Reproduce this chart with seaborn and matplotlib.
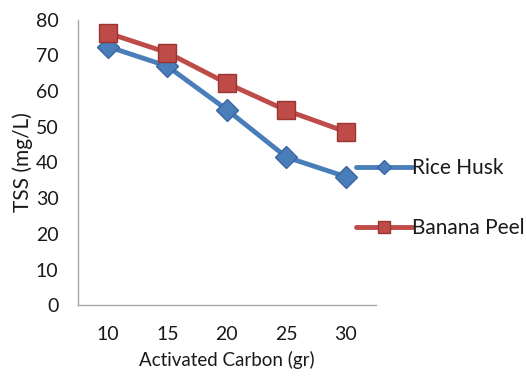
import matplotlib
matplotlib.use("Agg")
import matplotlib.pyplot as plt
import seaborn as sns
import pandas as pd
from matplotlib.lines import Line2D

carbon = [10, 15, 20, 25, 30]
rice_husk = [72.5, 67, 54.8, 41.5, 36]
banana_peel = [76.3, 70.8, 62.2, 54.6, 48.6]
series_names = ["Rice Husk", "Banana Peel"]
y_ticks = [0, 10, 20, 30, 40, 50, 60, 70, 80]

sns.set_style("white")
plt.rcParams['font.family'] = ['Lato', 'DejaVu Sans']
plt.rcParams['text.color'] = '#1a1a1a'
plt.rcParams['axes.labelcolor'] = '#1a1a1a'
plt.rcParams['xtick.color'] = '#1a1a1a'
plt.rcParams['ytick.color'] = '#1a1a1a'

df = pd.DataFrame({
    "carbon": carbon * 2,
    "tss": rice_husk + banana_peel,
    "series": [series_names[0]] * 5 + [series_names[1]] * 5,
})

blue = "#4a7ebb"
red = "#be4b48"

fig = plt.figure(figsize=(5.27, 3.81), dpi=100)
ax = fig.add_axes([0.148, 0.199, 0.565, 0.749])

sns.lineplot(data=df[df.series == series_names[0]], x="carbon", y="tss", ax=ax,
             color=blue, linewidth=3.5, marker="D", markersize=11,
             markeredgecolor="#3a65a0", markeredgewidth=1, legend=False)
sns.lineplot(data=df[df.series == series_names[1]], x="carbon", y="tss", ax=ax,
             color=red, linewidth=3.5, marker="s", markersize=13,
             markeredgecolor="#9a3533", markeredgewidth=1, legend=False)

ax.set_xlim(7.5, 32.5)
ax.set_ylim(0, 80)
ax.set_xticks(carbon)
ax.set_yticks(y_ticks)
ax.tick_params(axis='x', labelsize=14, length=0, pad=15)
ax.tick_params(axis='y', labelsize=14, length=0, pad=14)
ax.set_xlabel("Activated Carbon (gr)", fontsize=13.5, labelpad=6)
ax.set_ylabel("TSS (mg/L)", fontsize=15, labelpad=2)
for s in ["top", "right"]:
    ax.spines[s].set_visible(False)
for s in ["left", "bottom"]:
    ax.spines[s].set_color("#a6a6a6")
    ax.spines[s].set_linewidth(1)

handles = [
    Line2D([0], [0], color=blue, lw=3.5, marker="D", markersize=7, markeredgecolor="#3a65a0"),
    Line2D([0], [0], color=red, lw=3.5, marker="s", markersize=8, markeredgecolor="#9a3533"),
]
fig.legend(handles, series_names, loc="center left", bbox_to_anchor=(0.64, 0.48),
           frameon=False, fontsize=15, labelspacing=1.9, handlelength=2.7,
           handletextpad=0.0)

fig.savefig("out.png", dpi=100)
